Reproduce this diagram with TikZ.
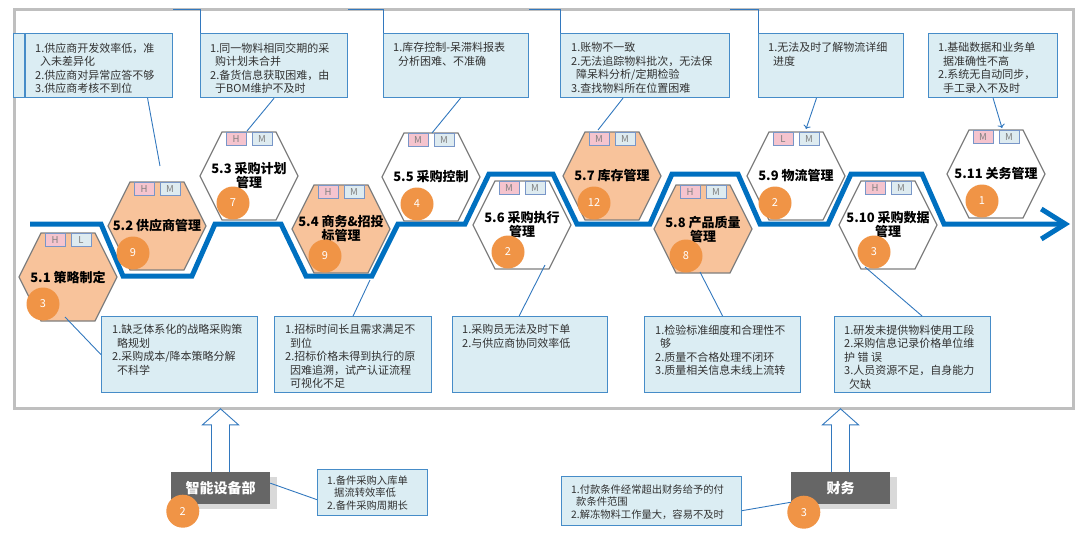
\documentclass[tikz,border=0pt]{standalone}
\usepackage{fontspec}
\setmainfont{Noto Sans CJK SC}
\usetikzlibrary{positioning,calc,arrows.meta,shadows}
\definecolor{pathblue}{RGB}{0,112,192}
\definecolor{framegray}{RGB}{191,191,191}
\definecolor{hexorange}{RGB}{248,195,155}
\definecolor{hexborder}{RGB}{127,127,127}
\definecolor{dotorange}{RGB}{240,148,70}
\definecolor{tagpink}{RGB}{245,196,206}
\definecolor{tagblue}{RGB}{222,235,240}
\definecolor{tagedge}{RGB}{120,150,200}
\definecolor{boxfill}{RGB}{219,237,243}
\definecolor{boxedge}{RGB}{70,140,200}
\definecolor{linkblue}{RGB}{50,120,190}
\definecolor{deptgray}{RGB}{102,102,102}
\definecolor{textgray}{RGB}{50,50,50}

\tikzset{
  hexline/.style={draw=hexborder, line width=1.3pt},
  tagbox/.style={draw=tagedge, line width=0.8pt, minimum width=20pt, minimum height=12.5pt, inner sep=0pt, font=\fontsize{9.5}{10}\selectfont, text=hexborder},
  hextitle/.style={align=center, font=\bfseries\fontsize{13}{14}\selectfont, inner sep=0pt},
  numdot/.style={circle, fill=dotorange, minimum size=33pt, inner sep=0pt, text=white, font=\fontsize{11}{12}\selectfont},
  probbox/.style={draw=boxedge, fill=boxfill, line width=1.2pt, inner sep=0pt, anchor=north west},
  probtext/.style={align=left, inner sep=0pt, anchor=north west, text=textgray, font=\fontsize{11}{13.5}\selectfont},
  smalltext/.style={probtext, font=\fontsize{10.3}{12.5}\selectfont},
  link/.style={draw=linkblue, line width=0.9pt},
  deptbox/.style={fill=deptgray, text=white, font=\bfseries\fontsize{14}{16}\selectfont, minimum width=99pt, minimum height=32pt, inner sep=0pt, drop shadow={shadow xshift=7pt, shadow yshift=-5pt, opacity=0.3}},
  hollow/.style={draw=linkblue, line width=0.9pt, fill=white}
}

\begin{document}
\begin{tikzpicture}[x=1pt, y=-1pt]
        \useasboundingbox (0,0) rectangle (1080,552);

        % Frame
        \draw[framegray, line width=3pt] (14,9) rectangle (1073,408);

        % Flow line
        \draw[pathblue, line width=5pt, -{Straight Barb[length=24pt, width=30pt]}] (30,224) -- (101,224) -- (123,276) -- (192,276) -- (215,224) -- (281,224) -- (306,276) -- (372,276) -- (398,224) -- (465,224) -- (489,174) -- (553,174) -- (577,224) -- (650,224) -- (672,174) -- (738,174) -- (760,224) -- (828,224) -- (851,174) -- (922,174) -- (944,224) -- (1070,224);

        % Hexagons
        \foreach \id/\cx/\cy/\hf/\ta/\tb/\num/\dx/\ttl in {
            51/68/277/hexorange/H/L/3/-25/{5.1 策略制定},
            52/157/226/hexorange/H/M/9/-24/{5.2 供应商管理},
            53/249/176/white/H/M/7/-16/{5.3 采购计划\\管理},
            54/341/229/hexorange/H/M/9/-16/{5.4 商务\&招投\\标管理},
            55/431/177/white/M/M/4/-14/{5.5 采购控制},
            56/522/225/white/M/M/2/-14/{5.6 采购执行\\管理},
            57/612/176/hexorange/M/M/12/-18/{5.7 库存管理},
            58/703/229/hexorange/H/M/8/-17/{5.8 产品质量\\管理},
            59/796/176/white/L/M/2/-21/{5.9 物流管理},
            510/888/225/white/H/M/3/-14/{5.10 采购数据\\管理},
            511/996/174/white/M/M/1/-14/{5.11 关务管理}}
        {
            \coordinate (h\id) at (\cx,\cy);
            \draw[hexline, fill=\hf] ($(h\id)+(-49,0)$) -- ++(22,-44) -- ++(54,0) -- ++(22,44) -- ++(-22,44) -- ++(-54,0) -- cycle;
            \node[tagbox, fill=tagpink] (ta\id) at ($(h\id)+(-13,-37)$) {\ta};
            \node[tagbox, fill=tagblue] (tb\id) at ($(h\id)+(13,-37)$) {\tb};
            \node[hextitle] (t\id) at (h\id) {\ttl};
            \node[numdot] (n\id) at ($(h\id)+(\dx,27)$) {\num};
        }

        % Problems above
        \node[probbox, minimum width=159pt, minimum height=64pt] (p52) at (13,33) {};
        \draw[draw=boxedge, line width=1.2pt] ($(p52.north west)+(12,0)$) -- ($(p52.south west)+(12,0)$);
        \node[probtext] (q52) at ($(p52.north west)+(22,9.5)$) {1.供应商开发效率低，准\\\hspace{5pt}入未差异化\\2.供应商对异常应答不够\\3.供应商考核不到位};

        \node[probbox, minimum width=147pt, minimum height=64pt] (p53) at (200,33) {};
        \node[probtext] (q53) at ($(p53.north west)+(10,9.5)$) {1.同一物料相同交期的采\\\hspace{5pt}购计划未合并\\2.备货信息获取困难，由\\\hspace{5pt}于BOM维护不及时};

        \node[probbox, minimum width=145pt, minimum height=64pt] (p55) at (383,33) {};
        \node[probtext] (q55) at ($(p55.north west)+(10,9.5)$) {1.库存控制-呆滞料报表\\\hspace{5pt}分析困难、不准确};

        \node[probbox, minimum width=169pt, minimum height=64pt] (p57) at (560,33) {};
        \node[probtext] (q57) at ($(p57.north west)+(11,9.5)$) {1.账物不一致\\2.无法追踪物料批次，无法保\\\hspace{5pt}障呆料分析/定期检验\\3.查找物料所在位置困难};

        \node[probbox, minimum width=145pt, minimum height=64pt] (p59) at (758,33) {};
        \node[probtext] (q59) at ($(p59.north west)+(10,9.5)$) {1.无法及时了解物流详细\\\hspace{5pt}进度};

        \node[probbox, minimum width=129pt, minimum height=64pt] (p511) at (928,33) {};
        \node[probtext] (q511) at ($(p511.north west)+(10,9.5)$) {1.基础数据和业务单\\\hspace{5pt}据准确性不高\\2.系统无自动同步，\\\hspace{5pt}手工录入不及时};

        % Top elbows
        \draw[link] ($(p52.north east)+(0,-24)$) -| (p53.north west);
        \draw[link] ($(p53.north east)+(0,-24)$) -| (p55.north west);
        \draw[link] ($(p55.north east)+(0,-24)$) -| (p57.north west);
        \draw[link] ($(p57.north east)+(0,-24)$) -| (p59.north west);

        % Problems below
        \node[probbox, minimum width=156pt, minimum height=76pt] (p51) at (101,316) {};
        \node[probtext] (q51) at ($(p51.north west)+(11,8.5)$) {1.缺乏体系化的战略采购策\\\hspace{5pt}略规划\\2.采购成本/降本策略分解\\\hspace{5pt}不科学};

        \node[probbox, minimum width=157pt, minimum height=76pt] (p54) at (274,316) {};
        \node[probtext] (q54) at ($(p54.north west)+(11,8.5)$) {1.招标时间长且需求满足不\\\hspace{5pt}到位\\2.招标价格未得到执行的原\\\hspace{5pt}因难追溯，试产认证流程\\\hspace{5pt}可视化不足};

        \node[probbox, minimum width=155pt, minimum height=76pt] (p56) at (452,316) {};
        \node[probtext] (q56) at ($(p56.north west)+(10,8.5)$) {1.采购员无法及时下单\\2.与供应商协同效率低};

        \node[probbox, minimum width=156pt, minimum height=76pt] (p58) at (644,316) {};
        \node[probtext] (q58) at ($(p58.north west)+(11,8.5)$) {1.检验标准细度和合理性不\\\hspace{5pt}够\\2.质量不合格处理不闭环\\3.质量相关信息未线上流转};

        \node[probbox, minimum width=156pt, minimum height=76pt] (p510) at (834,316) {};
        \node[probtext] (q510) at ($(p510.north west)+(10,8.5)$) {1.研发未提供物料使用工段\\2.采购信息记录价格单位维\\护 错 误\\3.人员资源不足，自身能力\\\hspace{5pt}欠缺};

        % Links to hexagons
        \coordinate (a52) at (160,166);
        \coordinate (a53) at (247,131);
        \coordinate (a55) at (432,133);
        \coordinate (a57) at (598,130);
        \coordinate (a59) at (806,129);
        \coordinate (a511) at (1002,128);
        \coordinate (a51) at (65,317);
        \coordinate (a54) at (370,280);
        \coordinate (a56) at (545,265);
        \coordinate (a58) at (700,272);
        \coordinate (a510) at (865,267);

        \draw[link] ($(p52.south west)!.84!(p52.south east)$) -- (a52);
        \draw[link] (p53.south) -- (a53);
        \draw[link] ($(p55.south west)!.53!(p55.south east)$) -- (a55);
        \draw[link] ($(p57.south west)!.37!(p57.south east)$) -- (a57);
        \draw[link, ->] ($(p59.south west)!.4!(p59.south east)$) -- (a59);
        \draw[link, ->] (p511.south) -- (a511);
        \draw[link] (p51.west) -- (a51);
        \draw[link] (p54.north) -- (a54);
        \draw[link] ($(p56.north west)!.43!(p56.north east)$) -- (a56);
        \draw[link] (p58.north) -- (a58);
        \draw[link] ($(p510.north west)!.56!(p510.north east)$) -- (a510);

        % Departments
        \node[deptbox] (d1) at (220.5,488) {智能设备部};
        \draw[hollow] ($(d1.north)+(-9,0)$) -- ++(0,-47) -- ++(-9,0) -- ($(d1.north)+(0,-63)$) -- ($(d1.north)+(18,-47)$) -- ++(-9,0) -- ($(d1.north)+(9,0)$);
        \node[numdot] (m1) at ($(d1.south west)+(12,7)$) {2};
        \node[probbox, minimum width=110pt, minimum height=46pt] (e1) at (317,469) {};
        \node[probtext, smalltext] (f1) at ($(e1.north west)+(10,6.5)$) {1.备件采购入库单\\\hspace{7pt}据流转效率低\\2.备件采购周期长};
        \draw[link] ($(d1.north east)!.35!(d1.south east)$) -- ($(e1.north west)!.65!(e1.south west)$);

        \node[deptbox] (d2) at (840.5,488) {财务};
        \draw[hollow] ($(d2.north)+(-9,0)$) -- ++(0,-47) -- ++(-9,0) -- ($(d2.north)+(0,-63)$) -- ($(d2.north)+(18,-47)$) -- ++(-9,0) -- ($(d2.north)+(9,0)$);
        \node[numdot] (m2) at ($(d2.south west)+(13,8)$) {3};
        \node[probbox, minimum width=180pt, minimum height=49pt] (e2) at (561,476) {};
        \node[probtext, smalltext] (f2) at ($(e2.north west)+(10,8.5)$) {1.付款条件经常超出财务给予的付\\\hspace{5pt}款条件范围\\2.解冻物料工作量大，容易不及时};
        \draw[link] ($(e2.north east)!.69!(e2.south east)$) -- ($(d2.north west)!.94!(d2.south west)$);
    \end{tikzpicture}
\end{document}
